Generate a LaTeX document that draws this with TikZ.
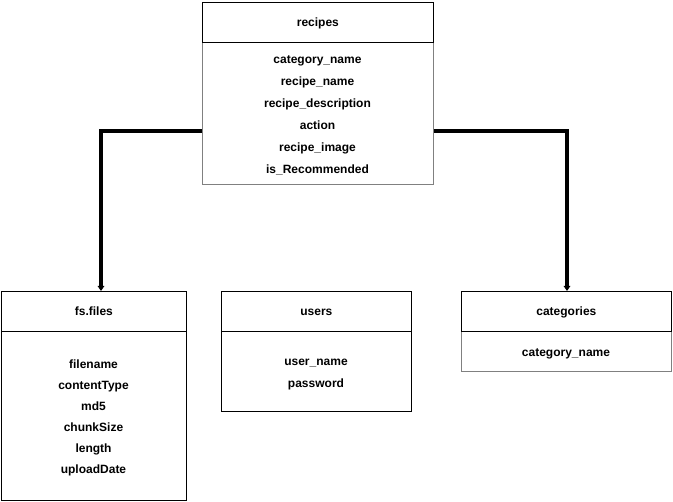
\documentclass[tikz,border=0pt]{standalone}
\usepackage{fontspec}
\setmainfont{Liberation Sans}
\usetikzlibrary{positioning, arrows.meta}
\definecolor{bodygray}{RGB}{128, 128, 128}

\begin{document}
\begin{tikzpicture}[
  x=1pt, y=-1pt,
  >={Triangle[length=5pt, width=6.5pt]},
  % --- Styles ---
  hdbox/.style={
    rectangle, draw=black, fill=white, line width=0.8pt,
    minimum width=#1, minimum height=40pt, inner sep=0pt,
    text height=8.6pt, text depth=0pt,
    font=\fontsize{12}{14}\selectfont\bfseries, anchor=north west},
  bdbox/.style={
    rectangle, draw=#1, fill=white, line width=0.8pt, inner sep=0pt,
    anchor=north west},
  bdbox/.default=black,
  fld/.style={font=\fontsize{12}{14}\selectfont\bfseries, inner sep=0pt,
    text height=8.6pt, text depth=0pt},
  relarr/.style={->, line width=4pt},
]
\useasboundingbox (0,0) rectangle (673,502);
% === TABLES ===
% recipes
\node[bdbox=bodygray, minimum width=231pt, minimum height=142pt] (recB) at (202,42) {};
\node[hdbox=231pt] (rec) at (202,2) {recipes};
\foreach \f [count=\i] in {category\_name, recipe\_name, recipe\_description,
    action, recipe\_image, is\_Recommended}
  \node[fld] at (317.5, 37+22*\i) {\f};
% fs.files
\node[bdbox, minimum width=185pt, minimum height=169pt] (fsB) at (1,331) {};
\node[hdbox=185pt] (fs) at (1,291) {fs.files};
\foreach \f [count=\i] in {filename, contentType, md5, chunkSize, length, uploadDate}
  \node[fld] at (93.5, 343+21*\i) {\f};
% users
\node[bdbox, minimum width=190pt, minimum height=80pt] (usB) at (221,331) {};
\node[hdbox=190pt] (us) at (221,291) {users};
\node[fld] (usr) at (316,361) {user\_name};
\node[fld] (pwd) at (316,383) {password};
% categories
\node[bdbox=bodygray, minimum width=210pt, minimum height=40pt] (catB) at (461,331) {};
\node[hdbox=210pt] (cat) at (461,291) {categories};
\node[fld] (catF) at (566,352) {category\_name};
% === ARROWS ===
\draw[relarr] (recB.west |- 0,131) -| (fs.north -| 101,0);
\draw[relarr] (recB.east |- 0,131) -| (cat.north -| 567,0);
\end{tikzpicture}
\end{document}
